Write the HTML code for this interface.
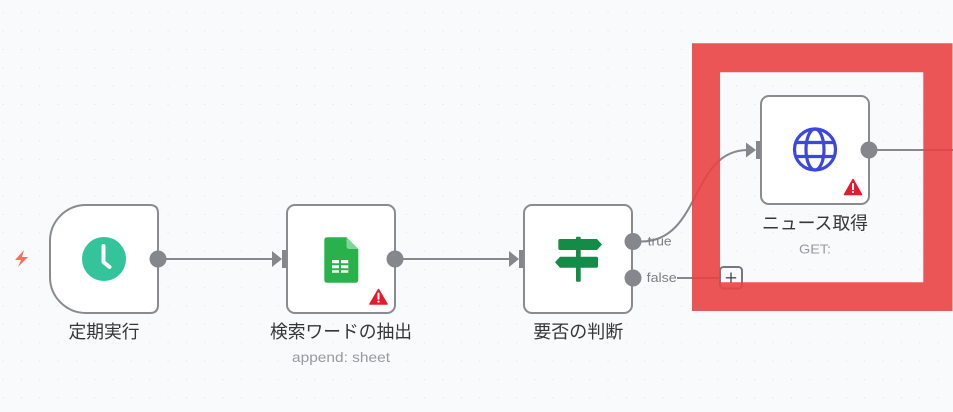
<!DOCTYPE html>
<html>
<head>
<meta charset="utf-8">
<style>
html,body{margin:0;padding:0;background:#f9fafc;}
svg{display:block;}
text{font-family:"Liberation Sans","Noto Sans CJK JP",sans-serif;}
</style>
</head>
<body>
<svg width="953" height="412" viewBox="0 0 953 412" xmlns="http://www.w3.org/2000/svg">
  <defs>
    <pattern id="dots" x="2.7" y="12.3" width="18.333" height="18.333" patternUnits="userSpaceOnUse">
      <rect x="-0.6" y="-0.6" width="1.3" height="1.3" fill="#c3c5ca"/>
    </pattern>
  </defs>
  <rect x="0" y="0" width="953" height="412" fill="#f9fafc"/>
  <rect x="0" y="0" width="953" height="412" fill="url(#dots)"/>

  <!-- trigger lightning -->
  <path d="M24 250 L15 260 L21 260 L18 267 L28 257 L22 257 Z" fill="#ff6d5a"/>

  <!-- edges -->
  <g stroke="#87888d" stroke-width="2" fill="none">
    <line x1="158" y1="259" x2="274" y2="259"/>
    <line x1="395" y1="259" x2="511" y2="259"/>
    <path d="M641 241.5 C 702 241.5, 690 150, 748 150"/>
    <line x1="677" y1="278" x2="719" y2="278"/>
    <line x1="869" y1="150" x2="953" y2="150"/>
  </g>
  <!-- arrowheads & input handles -->
  <g fill="#85878c">
    <path d="M272 251 L282 259 L272 267 Z"/>
    <rect x="282" y="250" width="9" height="18"/>
    <path d="M509 251 L519 259 L509 267 Z"/>
    <rect x="519" y="250" width="9" height="18"/>
    <path d="M746 142.5 L756 150 L746 157.5 Z"/>
    <rect x="756" y="141" width="9" height="18"/>
  </g>

  <!-- Node 1 trigger -->
  <path d="M86 205 H150 Q158 205 158 213 V305 Q158 313 150 313 H86 A36 36 0 0 1 50 277 V241 A36 36 0 0 1 86 205 Z" fill="#ffffff" stroke="#8a8b8f" stroke-width="2"/>
  <circle cx="104" cy="259" r="22" fill="#33c49c"/>
  <path d="M103.5 246 V262 L109.5 267" stroke="#ffffff" stroke-width="4" fill="none" stroke-linecap="round" stroke-linejoin="round"/>
  <circle cx="158" cy="259" r="8.5" fill="#85878c"/>
  <text x="104" y="338" font-size="18" fill="#363636" text-anchor="middle" textLength="71" lengthAdjust="spacingAndGlyphs">定期実行</text>

  <!-- Node 2 sheets -->
  <rect x="287" y="205" width="108" height="108" rx="8" fill="#ffffff" stroke="#8a8b8f" stroke-width="2"/>
  <path d="M327 237.3 H346.5 L358.3 249 V279.7 Q358.3 282.7 355.3 282.7 H327.3 Q324.3 282.7 324.3 279.7 V240.3 Q324.3 237.3 327.3 237.3 Z" fill="#29b24b"/>
  <path d="M346.5 237.3 L358.3 249 H349.5 Q346.5 249 346.5 246 Z" fill="#7ed597"/>
  <rect x="332" y="260" width="16.3" height="12.7" fill="#ffffff"/>
  <g stroke="#29b24b" stroke-width="2">
    <line x1="340" y1="260" x2="340" y2="272.7"/>
    <line x1="332" y1="264.3" x2="348.3" y2="264.3"/>
    <line x1="332" y1="269.2" x2="348.3" y2="269.2"/>
  </g>
  <path d="M378.5 289.5 L387 304 H370 Z" fill="#e8192c" stroke="#e8192c" stroke-width="1.5" stroke-linejoin="round"/>
  <line x1="378.5" y1="293.5" x2="378.5" y2="298.8" stroke="#fff" stroke-width="2" stroke-linecap="round"/>
  <circle cx="378.5" cy="301.6" r="1.1" fill="#fff"/>
  <circle cx="395" cy="259" r="8.5" fill="#85878c"/>
  <text x="341" y="338" font-size="18" fill="#363636" text-anchor="middle" textLength="142" lengthAdjust="spacingAndGlyphs">検索ワードの抽出</text>
  <text x="341" y="362" font-size="14" fill="#9a9a9e" text-anchor="middle" textLength="98" lengthAdjust="spacingAndGlyphs">append: sheet</text>

  <!-- Node 3 if -->
  <rect x="524" y="205" width="108" height="108" rx="8" fill="#ffffff" stroke="#8a8b8f" stroke-width="2"/>
  <rect x="576" y="236.7" width="4.7" height="45" rx="1" fill="#138c48"/>
  <path d="M560 239 H597 L602 244.5 L597 250 H560 Q558.3 250 558.3 248.3 V240.7 Q558.3 239 560 239 Z" fill="#138c48"/>
  <path d="M560 256.7 H596.3 Q598 256.7 598 258.4 V266 Q598 267.7 596.3 267.7 H560 L555 262.2 Z" fill="#138c48"/>
  <circle cx="633" cy="241.5" r="8.5" fill="#85878c"/>
  <circle cx="633" cy="278" r="8.5" fill="#85878c"/>
  <text x="647.7" y="245.5" font-size="12.5" fill="#7e7e82" textLength="24" lengthAdjust="spacingAndGlyphs">true</text>
  <text x="646.7" y="282" font-size="12.5" fill="#7e7e82" textLength="30" lengthAdjust="spacingAndGlyphs">false</text>
  <text x="578.3" y="338" font-size="18" fill="#363636" text-anchor="middle" textLength="90" lengthAdjust="spacingAndGlyphs">要否の判断</text>

  <!-- plus button -->
  <rect x="720" y="267" width="22" height="21.5" rx="3.5" fill="none" stroke="#77787c" stroke-width="2"/>
  <line x1="731" y1="272.5" x2="731" y2="283" stroke="#444" stroke-width="1.3"/>
  <line x1="725.8" y1="277.8" x2="736.2" y2="277.8" stroke="#444" stroke-width="1.3"/>

  <!-- Node 4 http -->
  <rect x="761" y="96" width="108" height="108" rx="8" fill="#ffffff" stroke="#8a8b8f" stroke-width="2"/>
  <g stroke="#3c46e0" stroke-width="3.2" fill="none">
    <circle cx="815" cy="149.5" r="20.5"/>
    <ellipse cx="815" cy="149.5" rx="9" ry="20.5"/>
    <line x1="794.5" y1="142.5" x2="835.5" y2="142.5"/>
    <line x1="794.5" y1="156.5" x2="835.5" y2="156.5"/>
  </g>
  <path d="M853 179.5 L861.5 194.5 H844.5 Z" fill="#e8192c" stroke="#e8192c" stroke-width="1.5" stroke-linejoin="round"/>
  <line x1="853" y1="184" x2="853" y2="189.3" stroke="#fff" stroke-width="2" stroke-linecap="round"/>
  <circle cx="853" cy="192" r="1.1" fill="#fff"/>
  <circle cx="869" cy="150" r="8.5" fill="#85878c"/>
  <text x="815" y="229.5" font-size="18" fill="#363636" text-anchor="middle" textLength="106" lengthAdjust="spacingAndGlyphs">ニュース取得</text>
  <text x="815" y="253.3" font-size="13" fill="#9a9a9e" text-anchor="middle" textLength="32" lengthAdjust="spacingAndGlyphs">GET:</text>

  <!-- red highlight frame -->
  <path fill-rule="evenodd" fill="rgba(234,66,68,0.9)" d="M692 43.3 H952.5 V311 H692 Z M720 72.3 V282.3 H923.3 V72.3 Z"/>
</svg>
</body>
</html>
